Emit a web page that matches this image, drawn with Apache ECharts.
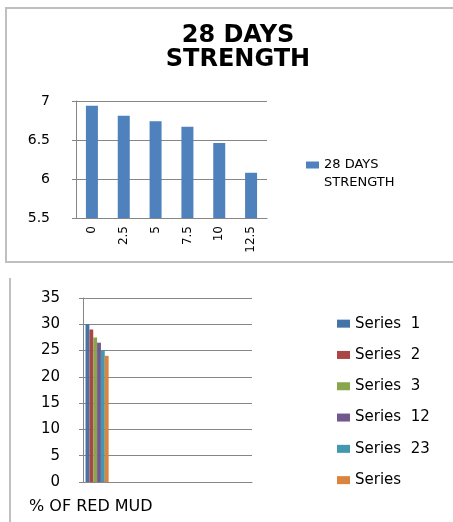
<!DOCTYPE html>
<html>
<head>
<meta charset="utf-8">
<script src="https://cdn.jsdelivr.net/npm/echarts@6/dist/echarts.min.js"></script>
<style>
  html, body { margin: 0; padding: 0; background: #fff; }
  #chart { width: 453px; height: 522px; }
</style>
</head>
<body>
<div id="chart"></div>
<script>
// top chart: 28 days strength vs % of red mud
const redMud = ['0', '2.5', '5', '7.5', '10', '12.5'];
const strength28 = [6.94, 6.81, 6.74, 6.67, 6.46, 6.08];
const strengthTicks = [5.5, 6, 6.5, 7];

// bottom chart: only the first category holds values
const bottomCats = ['1', '2', '3', '4', '5', '6'];
const seriesNames = ['Series  1', 'Series  2', 'Series  3', 'Series  12', 'Series  23', 'Series'];
const seriesFirst = [30, 29, 27.5, 26.5, 25, 24];
const seriesColors = ['#4572A7', '#AA4643', '#89A54E', '#71588F', '#4198AF', '#DB843D'];

const font = 'DejaVu Sans';
const axisGray = '#868686';

const chart = echarts.init(document.getElementById('chart'));

const bottomSeries = seriesNames.map((name, i) => ({
  name: name,
  type: 'bar',
  xAxisIndex: 1,
  yAxisIndex: 1,
  barGap: 0,
  barCategoryGap: '18%',
  itemStyle: {color: seriesColors[i]},
  data: bottomCats.map((c, j) => (j === 0 ? seriesFirst[i] : null))
}));

chart.setOption({
  animation: false,
  textStyle: {fontFamily: font},
  title: [
    {
      text: '28 DAYS\nSTRENGTH',
      left: 233,
      textAlign: 'center',
      top: 19,
      textStyle: {fontFamily: font, fontWeight: 'bold', fontSize: 24, lineHeight: 24, color: '#000'}
    },
    {
      text: '% OF RED MUD',
      left: 24,
      top: 494,
      textStyle: {fontFamily: font, fontWeight: 'normal', fontSize: 16, color: '#000'}
    }
  ],
  legend: [
    {
      data: ['28 DAYS STRENGTH'],
      left: 301,
      top: 133,
      padding: 5,
      itemWidth: 13,
      itemHeight: 7,
      icon: 'rect',
      // blank first line so the marker sits beside the first text line
      formatter: n => ' \n' + n.replace(' STRENGTH', '\nSTRENGTH'),
      textStyle: {fontFamily: font, fontSize: 13, color: '#000', lineHeight: 18}
    },
    {
      data: seriesNames,
      orient: 'vertical',
      left: 332,
      top: 309,
      padding: 5,
      itemWidth: 13,
      itemHeight: 8,
      itemGap: 12,
      icon: 'rect',
      textStyle: {fontFamily: font, fontSize: 15, color: '#000', lineHeight: 19.3}
    }
  ],
  grid: [
    {left: 76, top: 101, width: 191, height: 117},
    {left: 83, top: 298, width: 169, height: 184}
  ],
  xAxis: [
    {
      type: 'category',
      gridIndex: 0,
      data: redMud,
      axisLine: {lineStyle: {color: axisGray}},
      axisTick: {length: 5, lineStyle: {color: axisGray}},
      axisLabel: {rotate: 90, fontSize: 12, color: '#000', margin: 8}
    },
    {
      type: 'category',
      gridIndex: 1,
      data: bottomCats,
      axisLine: {lineStyle: {color: axisGray}},
      axisTick: {length: 5, lineStyle: {color: axisGray}},
      axisLabel: {show: false}
    }
  ],
  yAxis: [
    {
      type: 'value',
      gridIndex: 0,
      min: strengthTicks[0],
      max: strengthTicks[strengthTicks.length - 1],
      interval: 0.5,
      axisLine: {show: true, lineStyle: {color: axisGray}},
      axisTick: {show: true, length: 4, lineStyle: {color: axisGray}},
      splitLine: {lineStyle: {color: axisGray}},
      axisLabel: {fontSize: 14, color: '#000', margin: 26}
    },
    {
      type: 'value',
      gridIndex: 1,
      min: 0,
      max: 35,
      interval: 5,
      axisLine: {show: true, lineStyle: {color: axisGray}},
      axisTick: {show: true, length: 4, lineStyle: {color: axisGray}},
      splitLine: {lineStyle: {color: axisGray}},
      axisLabel: {fontSize: 15, color: '#000', margin: 23}
    }
  ],
  graphic: [
    {
      type: 'rect',
      shape: {x: 6, y: 8, width: 460, height: 254},
      style: {fill: null, stroke: '#bfbfbf', lineWidth: 2},
      silent: true
    },
    {
      type: 'line',
      shape: {x1: 10, y1: 278, x2: 10, y2: 522},
      style: {stroke: '#bfbfbf', lineWidth: 2},
      silent: true
    }
  ],
  series: [
    {
      name: '28 DAYS STRENGTH',
      type: 'bar',
      xAxisIndex: 0,
      yAxisIndex: 0,
      barWidth: 12,
      itemStyle: {color: '#4F81BD'},
      data: strength28
    }
  ].concat(bottomSeries)
});
</script>
</body>
</html>
